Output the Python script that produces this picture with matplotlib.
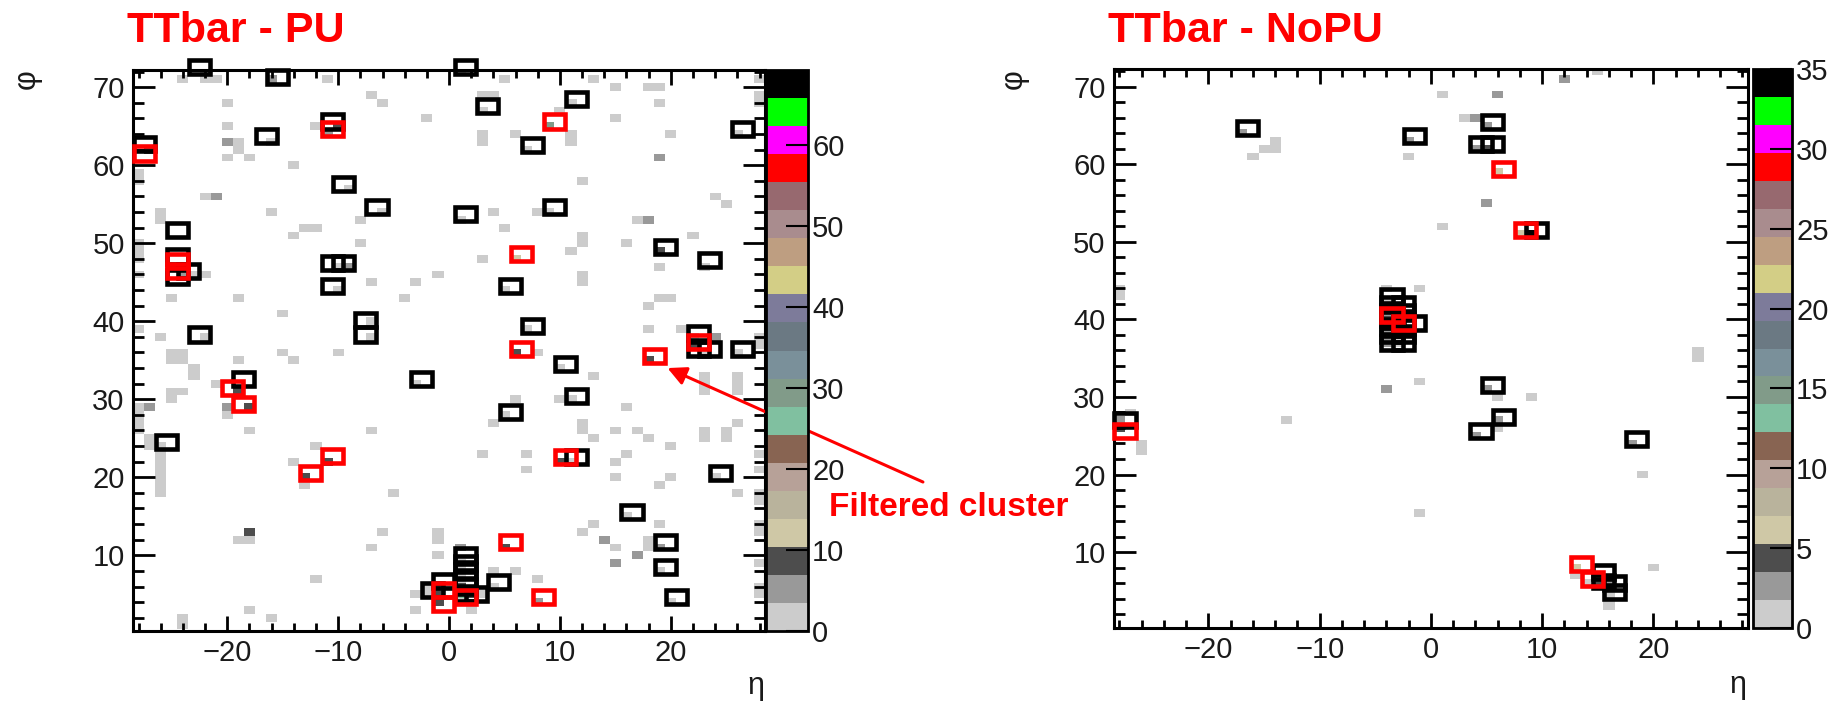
import numpy as np
import matplotlib
matplotlib.use("Agg")
import matplotlib.pyplot as plt
from matplotlib.colors import ListedColormap, BoundaryNorm
from matplotlib.patches import Rectangle
from matplotlib.ticker import MultipleLocator

plt.rcParams["font.family"] = ["Liberation Sans", "DejaVu Sans"]

# 20-level palette, bottom to top
palette = [
    "#cccccc", "#999999", "#4d4d4d", "#cfc8a6", "#b9b39c",
    "#b7a198", "#886452", "#80c0a0", "#819b89", "#7a909a",
    "#6b7983", "#7d7b9a", "#d3ce86", "#be9e81", "#a98c8e",
    "#97696f", "#ff0000", "#ff00ff", "#00ff00", "#000000",
]

# ---------------- TTbar - PU ----------------
pu_cell_eta = [
    -24, -22, -21, -16, -11, -20, -7, -6, -20, -12, -2, -20, -19, -19, -20, -18,
    -14, -28, -28, -22, -21, -26, -26, -16, -13, -12, -14, -8, -8, -28, -28, -28,
    -28, -22, -25, -19, -7, -3, -1, -4, -15, -26, -28, -25, -24, -15, -10,
    -27, -10, -11, -16, -24, -24, -23, -10, -9, -10, -7, -7, -22, -9, -6, -22,
    -24, -25, -23, -23, -19, -14, -21, -24, -25, -25, -27, -28, -28, -28, -28,
    -20, -20, -19, -18, -18, -27, -27, -26, -26, -26, -26, -26, -26, -26,
    -12, -14, -13, -13, -11, -7, -5, -18, -19, -18, -6, -7, -1, -1, -1, 1,
    -12, -3, -3, -18, -16, -24, -24, -3,
    5, 13, 15, 18, 19, 3, 4, 19, 15, 10, 3, 3, 6, 11, 11, 20, 28, 28, 28,
    19, 12, 24, 25, 4, 5, 8, 17, 18, 12, 12, 16, 22, 11, 3, 19, 12, 12,
    19, 20, 18, 18, 21, 24, 8, 28, 28,
    9, 1, 7, 3, 11, 26, 1, 9, 6, 19, 23, 5, 7, 6, 22, 22, 23, 26,
    13, 23, 23, 23, 26, 26, 26, 16, 6, 10, 4, 12, 12, 13, 15, 17, 18, 20,
    23, 23, 25, 25, 26, 3, 7, 7, 15, 16, 15, 19, 20, 26, 28, 28, 28, 28,
    28, 28, 28, 28, 28, 12, 13, 14, 15, 15, 17, 18, 18, 19, 19, 4, 6, 8,
    2, 20,
    18, 10, 11, 5, 10, 11, 24, 16, 5, 8, 19, 4,
    -1, -1, 1, 2, 1, -1, 1, 1, 1, 0, -2, -2, 3, 1,
]
pu_cell_phi = [
    71, 71, 71, 71, 71, 68, 69, 68, 65, 65, 66, 63, 63, 62, 61, 61,
    60, 59, 58, 56, 56, 54, 53, 54, 52, 52, 51, 53, 50, 50, 49, 48,
    46, 46, 43, 43, 45, 45, 46, 43, 41, 38, 39, 36, 36, 36, 36,
    62, 65, 64, 63, 47, 46, 46, 47, 47, 44, 40, 38, 38, 57, 54, 72,
    35, 35, 34, 33, 35, 35, 32, 31, 31, 30, 29, 29, 28, 27, 26,
    29, 28, 31, 29, 26, 25, 24, 24, 23, 22, 21, 20, 19, 18,
    24, 22, 19, 20, 22, 26, 18, 13, 12, 12, 13, 11, 13, 12, 10, 11,
    7, 5, 3, 3, 2, 2, 1, 32,
    71, 71, 70, 70, 70, 69, 69, 68, 66, 67, 64, 63, 64, 64, 63, 64, 69, 68, 71,
    61, 58, 56, 55, 54, 52, 54, 53, 53, 51, 50, 50, 51, 49, 48, 47, 46, 45,
    43, 43, 42, 39, 39, 38, 36, 37, 38,
    65, 72, 62, 67, 68, 64, 53, 54, 48, 49, 47, 44, 39, 36, 38, 37, 36, 36,
    33, 33, 32, 31, 33, 32, 31, 29, 30, 30, 27, 27, 26, 25, 26, 26, 25, 24,
    26, 25, 26, 25, 27, 23, 23, 21, 22, 23, 20, 19, 20, 18, 23, 21, 18, 17,
    14, 13, 9, 6, 5, 13, 14, 12, 11, 9, 10, 12, 11, 14, 11, 8, 8, 7,
    3, 4,
    35, 34, 30, 28, 22, 22, 20, 15, 11, 4, 8, 6,
    6, 5, 5, 5, 6, 4, 9, 8, 7, 6, 6, 5, 5, 4,
]
pu_cell_val = [
    2, 2, 2, 5, 2, 2, 2, 2, 2, 2, 2, 5, 2, 2, 2, 2,
    2, 2, 2, 2, 5, 2, 2, 2, 2, 2, 2, 2, 2, 2, 2, 2,
    2, 2, 2, 2, 2, 2, 2, 2, 2, 2, 2, 2, 2, 2, 2,
    9, 9, 5, 2, 9, 5, 2, 2, 5, 2, 2, 2, 2, 2, 2, 2,
    2, 2, 2, 2, 2, 2, 2, 2, 2, 2, 5, 2, 2, 2, 2,
    5, 2, 9, 9, 2, 2, 2, 2, 2, 2, 2, 2, 2, 2,
    2, 2, 2, 9, 9, 2, 2, 7, 2, 2, 2, 2, 2, 2, 2, 5,
    2, 2, 2, 2, 2, 2, 2, 2,
    2, 2, 2, 2, 2, 2, 2, 2, 2, 2, 2, 2, 2, 2, 2, 2, 2, 2, 2,
    5, 2, 2, 2, 2, 2, 2, 2, 5, 2, 2, 2, 2, 2, 2, 2, 2, 2,
    2, 2, 2, 2, 2, 5, 2, 2, 2,
    29, 2, 2, 2, 2, 2, 2, 2, 12, 9, 2, 2, 2, 9, 2, 9, 2, 2,
    2, 2, 2, 2, 2, 2, 2, 2, 2, 2, 2, 2, 2, 2, 2, 2, 2, 2,
    2, 2, 2, 2, 2, 2, 2, 2, 2, 2, 2, 2, 2, 2, 2, 2, 2, 2,
    2, 2, 2, 2, 2, 2, 2, 5, 2, 5, 5, 2, 2, 2, 5, 2, 2, 2,
    2, 2,
    9, 2, 2, 2, 9, 2, 2, 2, 9, 5, 2, 2,
    9, 9, 26, 9, 9, 9, 2, 2, 2, 5, 2, 2, 2, 2,
]
pu_clus_eta = [
    -22.5, -15.5, 1.5, -10.5, -16.5, -27.5, -9.5, -6.5, 1.5, -24.5, -24.5, -24.5,
    -23.5, -10.5, -9.5, -10.5, -7.5, -7.5, -22.5, 3.5, 11.5, 7.5, 26.5, 9.5,
    19.5, 23.5, 5.5, 7.5, 22.5, 22.5, 23.5, 26.5, -18.5, -2.5, -25.5, 10.5,
    11.5, 5.5, 11.5, 24.5, 16.5, 19.5, 19.5, 20.5, 4.5, 1.5, 1.5, 1.5, 1.5,
    1.5, 1.5, -0.5, -1.5, 2.5,
]
pu_clus_phi = [
    72.6, 71.3, 72.6, 65.6, 63.7, 62.7, 57.6, 54.6, 53.8, 51.7, 48.3, 45.7,
    46.5, 47.5, 47.5, 44.5, 40.2, 38.3, 38.3, 67.6, 68.5, 62.6, 64.6, 54.7,
    49.5, 47.9, 44.5, 39.4, 38.5, 36.5, 36.5, 36.5, 32.6, 32.6, 24.5, 34.5,
    30.4, 28.4, 22.6, 20.6, 15.6, 11.7, 8.5, 4.6, 6.6, 10.0, 9.0, 8.0, 7.0,
    6.0, 5.0, 6.7, 5.6, 5.1,
]
pu_filt_eta = [
    -10.5, -27.5, -24.5, -24.5, 9.5, 6.5, 6.5, 22.5, -19.5, -18.5, -12.5,
    -10.5, 18.5, 10.5, 5.5, 8.5, -0.5, -0.5, 1.5,
]
pu_filt_phi = [
    64.7, 61.5, 47.7, 46.4, 65.6, 48.6, 36.4, 37.4, 31.5, 29.4, 20.6,
    22.7, 35.5, 22.6, 11.7, 4.6, 5.6, 3.8, 4.7,
]
pu_zmax = 69.2
pu_cticks = [0, 10, 20, 30, 40, 50, 60]

# ---------------- TTbar - NoPU ----------------
nopu_cell_eta = [
    -14, -15, -14, -16, -17, -2, -28, -28, -4, -1,
    12, 15, 1, 6, 3, 4, 5, 1, 24, 24,
    5, 4, 5, -2, 6, 9, 8,
    -4, -1, 9, 6, -1, 19, 20, 13, 16,
    5, 6, 4, 18, 6,
    -13, -26, -26, -27, -28, -28,
    -4, -4, -3, -4, -3, -4, -3, -4, -3, -4, -3, -2,
    15, 15, 16, 16, 14, 13, 16,
]
nopu_cell_phi = [
    63, 62, 62, 61, 64, 61, 44, 43, 44, 44,
    71, 72, 69, 69, 66, 66, 55, 52, 36, 35,
    65, 62, 62, 63, 59, 51, 51,
    31, 32, 30, 30, 15, 20, 8, 7, 3,
    31, 27, 25, 24, 26,
    27, 24, 23, 28, 27, 26,
    42, 41, 41, 40, 40, 39, 39, 38, 38, 37, 37, 40,
    7, 6, 6, 5, 6, 8, 4,
]
nopu_cell_val = [
    1, 1, 1, 1, 2.5, 1, 1, 1, 1, 1,
    2.5, 1, 1, 2.5, 1, 2.5, 2.5, 1, 1, 1,
    2.5, 2.5, 4.5, 2.5, 6, 34, 6,
    2.5, 1, 1, 1, 1, 1, 1, 1, 1,
    2.5, 2.5, 2.5, 2.5, 1,
    1, 1, 1, 1, 2.5, 4.5,
    1, 2.5, 2.5, 4.5, 2.5, 4.5, 1, 2.5, 2.5, 2.5, 1, 1,
    2.5, 4.5, 2.5, 1, 1, 6, 1,
]
nopu_clus_eta = [
    -16.5, -1.5, 5.5, 4.5, 5.5, 9.5, -27.5, 5.5, 6.5, 4.5, 18.5,
    15.5, 15.5, 16.5, 16.5,
    -3.5, -3.5, -3.5, -3.5, -3.5, -3.5, -3.5,
    -2.5, -2.5, -2.5, -2.5, -2.5, -2.5, -1.5,
]
nopu_clus_phi = [
    64.7, 63.7, 65.5, 62.6, 62.6, 51.5, 27.0, 31.6, 27.4, 25.6, 24.6,
    7.4, 6.2, 6.0, 4.8,
    43.0, 42.0, 41.0, 40.0, 39.0, 38.0, 37.0,
    42.0, 41.0, 40.0, 39.0, 38.0, 37.0, 39.5,
]
nopu_filt_eta = [6.5, 8.5, -27.5, 13.5, 14.5, -3.5, -2.5]
nopu_filt_phi = [59.4, 51.5, 25.6, 8.5, 6.5, 40.6, 39.6]
nopu_zmax = 35.0
nopu_cticks = [0, 5, 10, 15, 20, 25, 30, 35]

BOX_W = 1.9
BOX_H = 1.8
TXT = "#1a1a1a"


def draw_panel(fig, ax, cax, ceta, cphi, cval, keta, kphi, feta, fphi, zmax, cticks, ylim):
    eta_edges = np.arange(-28.5, 29.0, 1.0)
    phi_edges = np.arange(0.5, 73.0, 1.0)
    z = np.zeros((len(phi_edges) - 1, len(eta_edges) - 1))
    for e, p, v in zip(ceta, cphi, cval):
        z[int(p) - 1, int(e) + 28] = v
    z = np.ma.masked_equal(z, 0)

    cmap = ListedColormap(palette)
    norm = BoundaryNorm(np.linspace(0, zmax, len(palette) + 1), len(palette))
    mesh = ax.pcolormesh(eta_edges, phi_edges, z, cmap=cmap, norm=norm)

    for e, p in zip(keta, kphi):
        ax.add_patch(Rectangle((e - BOX_W / 2, p - BOX_H / 2), BOX_W, BOX_H,
                               fill=False, ec="black", lw=3.3, clip_on=False, zorder=3))
    for e, p in zip(feta, fphi):
        ax.add_patch(Rectangle((e - BOX_W / 2, p - BOX_H / 2), BOX_W, BOX_H,
                               fill=False, ec="#ff0000", lw=3.3, clip_on=False, zorder=4))

    ax.set_xlim(-28.5, 28.5)
    ax.set_ylim(*ylim)
    ax.xaxis.set_major_locator(MultipleLocator(10))
    ax.xaxis.set_minor_locator(MultipleLocator(2))
    ax.yaxis.set_major_locator(MultipleLocator(10))
    ax.yaxis.set_minor_locator(MultipleLocator(2))
    ax.tick_params(which="both", direction="in", top=True, right=True,
                   width=2, labelsize=21, labelcolor=TXT, pad=6)
    ax.tick_params(axis="x", which="major", length=11)
    ax.tick_params(axis="x", which="minor", length=6)
    ax.tick_params(axis="y", which="major", length=16)
    ax.tick_params(axis="y", which="minor", length=8)
    for s in ax.spines.values():
        s.set_linewidth(2.2)

    cb = fig.colorbar(mesh, cax=cax, ticks=cticks, spacing="proportional")
    cb.outline.set_linewidth(2)
    cax.minorticks_off()
    cax.tick_params(direction="in", length=16, width=1.5, labelsize=21,
                    labelcolor=TXT, pad=3)
    return mesh


fig = plt.figure(figsize=(18.4, 7.01), dpi=100)

ax1 = fig.add_axes([0.0723, 0.0999, 0.3435, 0.8002])
cax1 = fig.add_axes([0.4163, 0.0999, 0.0228, 0.8002])
ax2 = fig.add_axes([0.6054, 0.1041, 0.3446, 0.7975])
cax2 = fig.add_axes([0.9527, 0.1041, 0.0212, 0.7975])

draw_panel(fig, ax1, cax1, pu_cell_eta, pu_cell_phi, pu_cell_val,
           pu_clus_eta, pu_clus_phi, pu_filt_eta, pu_filt_phi,
           pu_zmax, pu_cticks, (0.3, 72.2))
draw_panel(fig, ax2, cax2, nopu_cell_eta, nopu_cell_phi, nopu_cell_val,
           nopu_clus_eta, nopu_clus_phi, nopu_filt_eta, nopu_filt_phi,
           nopu_zmax, nopu_cticks, (0.2, 72.3))

# titles and axis symbols
fig.text(0.069, 0.940, "TTbar - PU", color="#ff0000", fontsize=31,
         fontweight="bold", va="baseline")
fig.text(0.6022, 0.940, "TTbar - NoPU", color="#ff0000", fontsize=31,
         fontweight="bold", va="baseline")
fig.text(0.0147, 0.887, "φ", fontsize=22, rotation=90, ha="center", va="center", color=TXT)
fig.text(0.551, 0.887, "φ", fontsize=22, rotation=90, ha="center", va="center", color=TXT)
fig.text(0.411, 0.021, "η", fontsize=22, ha="center", va="center", color=TXT)
fig.text(0.9446, 0.023, "η", fontsize=22, ha="center", va="center", color=TXT)

# annotation for the filtered cluster
fig.text(0.4505, 0.2639, "Filtered cluster", color="#ff0000", fontsize=24,
         fontweight="bold", va="baseline")
ax1.annotate("", xy=(19.7, 34.0), xycoords="data",
             xytext=(0.5016, 0.3124), textcoords="figure fraction",
             arrowprops=dict(arrowstyle="-|>", color="#ff0000", lw=2.2,
                             mutation_scale=28, shrinkA=0, shrinkB=0),
             annotation_clip=False, zorder=6)

fig.savefig("out.png", dpi=100)
